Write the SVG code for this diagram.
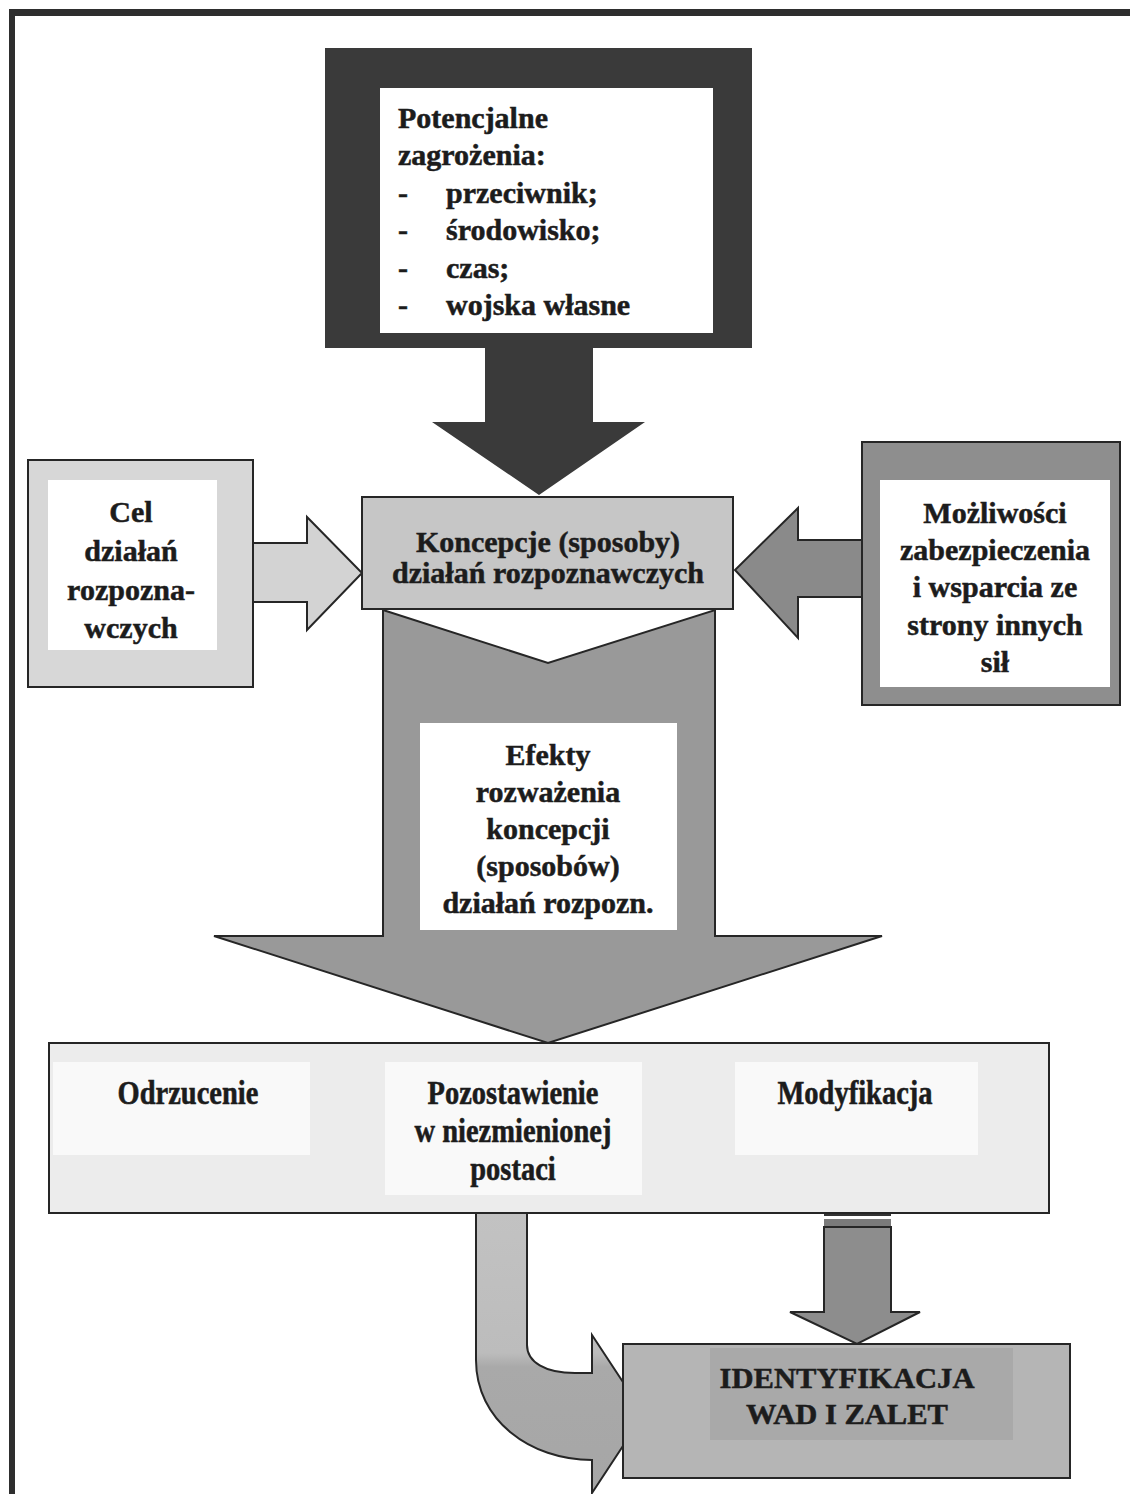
<svg xmlns="http://www.w3.org/2000/svg" width="1130" height="1494" viewBox="0 0 1130 1494">
<defs>
<style>
.t{font-family:"Liberation Serif","Times New Roman",serif;font-weight:bold;font-size:30px;fill:#1c1c1c;stroke:#1c1c1c;stroke-width:0.5}
.c{text-anchor:middle}
.ln{stroke:#262626;stroke-width:2;stroke-linejoin:miter}
</style>
<linearGradient id="bend" x1="0" y1="0" x2="0" y2="1">
<stop offset="0" stop-color="#c2c2c2"/>
<stop offset="0.5" stop-color="#bcbcbc"/>
<stop offset="0.55" stop-color="#a9a9a9"/>
<stop offset="1" stop-color="#a6a6a6"/>
</linearGradient>
</defs>
<rect width="1130" height="1494" fill="#ffffff"/>
<g id="page-border">
<rect x="9" y="9" width="1121" height="7" fill="#2e2e2e"/>
<rect x="9" y="9" width="6" height="1485" fill="#2e2e2e"/>
</g>
<g id="connectors">
<polygon points="485,346 593,346 593,422 645,422 539,495 432,422 485,422" fill="#3a3a3a"/>
<polygon class="ln" points="253,543 307,543 307,517 362,573 307,630 307,602 253,602" fill="#d3d3d3" stroke-width="1.5"/>
<polygon class="ln" points="862,540 798,540 798,508 735,570 798,638 798,597 862,597" fill="#8a8a8a" stroke-width="1.5"/>
<polygon class="ln" points="383,610 548,663 715,610 715,936 882,936 548,1043 214,936 383,936" fill="#999999"/>
<path class="ln" d="M476,1213 L476,1360 C476,1420 530,1460 592,1460 L592,1493 L644,1414 L592,1335 L592,1373 L575,1373 C545,1373 527,1362 527,1345 L527,1213 Z" fill="url(#bend)"/>
<rect x="824" y="1210" width="67" height="6" fill="#333333"/>
<rect x="824" y="1219" width="67" height="8" fill="#7a7a7a"/>
<polygon class="ln" points="824,1227 891,1227 891,1312 920,1312 857,1344 790,1312 824,1312" fill="#8d8d8d" stroke-width="1.5"/>
</g>
<g id="node-zagrozenia">
<rect x="325" y="48" width="427" height="300" fill="#3a3a3a"/>
<rect x="380" y="88" width="333" height="245" fill="#ffffff"/>
<text class="t" x="398" y="128">Potencjalne</text>
<text class="t" x="398" y="165">zagrożenia:</text>
<text class="t" x="398" y="203">-</text><text class="t" x="446" y="203">przeciwnik;</text>
<text class="t" x="398" y="240">-</text><text class="t" x="446" y="240">środowisko;</text>
<text class="t" x="398" y="278">-</text><text class="t" x="446" y="278">czas;</text>
<text class="t" x="398" y="315">-</text><text class="t" x="446" y="315">wojska własne</text>
</g>
<g id="node-koncepcje">
<rect class="ln" x="362" y="497" width="371" height="112" fill="#c6c6c6"/>
<text class="t c" x="548" y="552">Koncepcje (sposoby)</text>
<text class="t c" x="548" y="583">działań rozpoznawczych</text>
</g>
<g id="node-cel">
<rect class="ln" x="28" y="460" width="225" height="227" fill="#d7d7d7" stroke-width="1.5"/>
<rect x="48" y="480" width="169" height="170" fill="#ffffff"/>
<text class="t c" x="131" y="522">Cel</text>
<text class="t c" x="131" y="561">działań</text>
<text class="t c" x="131" y="600">rozpozna-</text>
<text class="t c" x="131" y="638">wczych</text>
</g>
<g id="node-mozliwosci">
<rect class="ln" x="862" y="442" width="258" height="263" fill="#8e8e8e"/>
<rect x="880" y="480" width="230" height="207" fill="#ffffff"/>
<text class="t c" x="995" y="523">Możliwości</text>
<text class="t c" x="995" y="560">zabezpieczenia</text>
<text class="t c" x="995" y="597">i wsparcia ze</text>
<text class="t c" x="995" y="635">strony innych</text>
<text class="t c" x="995" y="672">sił</text>
</g>
<g id="node-efekty">
<rect x="420" y="723" width="257" height="207" fill="#ffffff"/>
<text class="t c" x="548" y="765">Efekty</text>
<text class="t c" x="548" y="802">rozważenia</text>
<text class="t c" x="548" y="839">koncepcji</text>
<text class="t c" x="548" y="876">(sposobów)</text>
<text class="t c" x="548" y="913">działań rozpozn.</text>
</g>
<g id="node-decyzje">
<rect class="ln" x="49" y="1043" width="1000" height="170" fill="#ececec"/>
<rect x="53" y="1062" width="257" height="93" fill="#f9f9f9"/>
<rect x="385" y="1062" width="257" height="133" fill="#f9f9f9"/>
<rect x="735" y="1062" width="243" height="93" fill="#f9f9f9"/>
<text class="t c" transform="translate(188,1104) scale(0.95,1.15)">Odrzucenie</text>
<text class="t c" transform="translate(513,1104) scale(0.95,1.15)">Pozostawienie</text>
<text class="t c" transform="translate(513,1142) scale(0.95,1.15)">w  niezmienionej</text>
<text class="t c" transform="translate(513,1180) scale(0.95,1.15)">postaci</text>
<text class="t c" transform="translate(855,1104) scale(0.95,1.15)">Modyfikacja</text>
</g>
<g id="node-identyfikacja">
<rect class="ln" x="623" y="1344" width="447" height="134" fill="#b5b5b5"/>
<rect x="710" y="1348" width="303" height="92" fill="#a9a9a9"/>
<text class="t c" x="847" y="1388" font-size="33" textLength="255" lengthAdjust="spacingAndGlyphs">IDENTYFIKACJA</text>
<text class="t c" x="847" y="1424" font-size="33" textLength="202" lengthAdjust="spacingAndGlyphs">WAD I ZALET</text>
</g>
</svg>
